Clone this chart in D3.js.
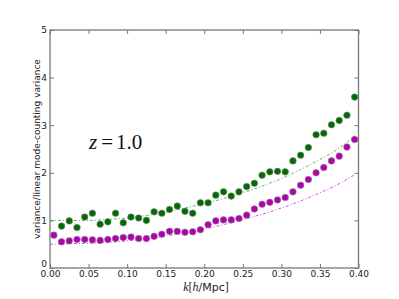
<!DOCTYPE html>
<html><head><meta charset="utf-8">
<script src="https://cdn.jsdelivr.net/npm/d3@7"></script>
<style>body{margin:0;background:#fff}svg{display:block}</style>
</head><body>
<script>
const kGreen = [0.015,0.025,0.035,0.045,0.055,0.065,0.075,0.085,0.095,0.105,0.115,0.125,0.135,0.145,0.155,0.165,0.175,0.185,0.195,0.205,0.215,0.225,0.235,0.245,0.255,0.265,0.275,0.285,0.295,0.305,0.315,0.325,0.335,0.345,0.355,0.365,0.375,0.385,0.395];
const vGreen = [0.88,0.99,0.85,1.07,1.15,0.92,0.97,1.15,0.95,1.07,1.05,1.00,1.18,1.15,1.23,1.30,1.19,1.15,1.37,1.37,1.53,1.60,1.51,1.60,1.71,1.78,1.95,2.02,2.03,2.02,2.25,2.37,2.53,2.80,2.83,3.01,3.10,3.21,3.59];
const kMag = [0.005,0.015,0.025,0.035,0.045,0.055,0.065,0.075,0.085,0.095,0.105,0.115,0.125,0.135,0.145,0.155,0.165,0.175,0.185,0.195,0.205,0.215,0.225,0.235,0.245,0.255,0.265,0.275,0.285,0.295,0.305,0.315,0.325,0.335,0.345,0.355,0.365,0.375,0.385,0.395];
const vMag = [0.69,0.55,0.57,0.60,0.60,0.59,0.58,0.60,0.62,0.64,0.65,0.62,0.62,0.665,0.71,0.77,0.77,0.75,0.76,0.805,0.91,0.99,1.01,1.01,1.04,1.11,1.24,1.34,1.38,1.43,1.48,1.60,1.74,1.86,2.00,2.11,2.25,2.35,2.54,2.70];
const kTheory = [0.0,0.025,0.05,0.075,0.1,0.125,0.15,0.175,0.2,0.225,0.25,0.275,0.3,0.325,0.35,0.375,0.395];
const tGreen = [1.00,1.00,1.00,1.02,1.05,1.10,1.17,1.26,1.35,1.46,1.58,1.72,1.88,2.07,2.28,2.52,2.78];
const tMag = [0.50,0.51,0.52,0.54,0.57,0.61,0.67,0.74,0.82,0.91,1.02,1.13,1.26,1.41,1.58,1.77,1.96];
const xTicks = [0,0.05,0.10,0.15,0.20,0.25,0.30,0.35,0.40];
const yTicks = [0,1,2,3,4,5];

const W=399,H=299;
const svg=d3.select("body").append("svg").attr("width",W).attr("height",H);
const x=d3.scaleLinear().domain([0,0.4]).range([50,358.5]);
const y=d3.scaleLinear().domain([0,5]).range([268,30]);
const font="DejaVu Sans, sans-serif";

// theory lines
const line=d3.line().x(d=>x(d[0])).y(d=>y(d[1])).curve(d3.curveMonotoneX);
svg.append("path").datum(kTheory.map((k,i)=>[k,tGreen[i]]))
  .attr("d",line).attr("fill","none").attr("stroke","#3aa83a").attr("stroke-opacity",0.8)
  .attr("stroke-width",1).attr("stroke-dasharray","3,2,1,2");
svg.append("path").datum(kTheory.map((k,i)=>[k,tMag[i]]))
  .attr("d",line).attr("fill","none").attr("stroke","#d030d0").attr("stroke-opacity",0.85)
  .attr("stroke-width",1).attr("stroke-dasharray","3,2,1,2");

// points
svg.append("g").selectAll("circle").data(kGreen.map((k,i)=>[k,vGreen[i]])).join("circle")
  .attr("cx",d=>x(d[0])).attr("cy",d=>y(d[1])).attr("r",3.3)
  .attr("fill","#006b00").attr("stroke","#8a8a8a").attr("stroke-width",0.6);
svg.append("g").selectAll("circle").data(kMag.map((k,i)=>[k,vMag[i]])).join("circle")
  .attr("cx",d=>x(d[0])).attr("cy",d=>y(d[1])).attr("r",3.3)
  .attr("fill","#b000b0").attr("stroke","#8a8a8a").attr("stroke-width",0.6);

// frame
const frame="#777";
svg.append("rect").attr("x",50).attr("y",30).attr("width",308.5).attr("height",238)
  .attr("fill","none").attr("stroke",frame).attr("stroke-width",1.3);

// axes with inward ticks
const gx=svg.append("g").attr("transform","translate(0,268)")
  .call(d3.axisBottom(x).tickValues(xTicks).tickFormat(d3.format(".2f")).tickSizeInner(-4).tickSizeOuter(0).tickPadding(3));
const gxt=svg.append("g").attr("transform","translate(0,30)")
  .call(d3.axisTop(x).tickValues(xTicks).tickFormat("").tickSizeInner(-4).tickSizeOuter(0));
const gy=svg.append("g").attr("transform","translate(50,0)")
  .call(d3.axisLeft(y).tickValues(yTicks).tickFormat(d3.format("d")).tickSizeInner(-4).tickSizeOuter(0).tickPadding(3));
const gyr=svg.append("g").attr("transform","translate(358.5,0)")
  .call(d3.axisRight(y).tickValues(yTicks).tickFormat("").tickSizeInner(-4).tickSizeOuter(0));
[gx,gxt,gy,gyr].forEach(g=>{
  g.select(".domain").remove();
  g.selectAll(".tick line").attr("stroke",frame);
  g.selectAll("text").attr("font-family",font).attr("font-size",9).attr("fill","#222");
});
// lift the y "0" label slightly so it sits above the "0.00" label
gy.selectAll(".tick text").filter(d=>d===0).attr("dy","-0.12em");

// labels
svg.append("text").attr("transform","translate(40,149) rotate(-90)").attr("text-anchor","middle")
  .attr("font-family",font).attr("font-size",9).attr("fill","#222")
  .text("variance/linear mode-counting variance");
const xl=svg.append("text").attr("x",206).attr("y",291).attr("text-anchor","middle")
  .attr("font-family",font).attr("font-size",11).attr("fill","#222");
xl.append("tspan").attr("font-family","Liberation Serif, serif").attr("font-style","italic").attr("font-size",12).text("k");
xl.append("tspan").attr("font-family","Liberation Serif, serif").attr("font-size",12).text("[");
xl.append("tspan").attr("font-family","Liberation Serif, serif").attr("font-style","italic").attr("font-size",12).text("h");
xl.append("tspan").text("/Mpc");
xl.append("tspan").attr("font-family","Liberation Serif, serif").attr("font-size",12).text("]");

const zt=svg.append("text").attr("x",89).attr("y",149).attr("font-family","Liberation Serif, serif")
  .attr("font-size",21).attr("fill","#111");
zt.append("tspan").attr("font-style","italic").text("z");
zt.append("tspan").attr("dx",4).text("=");
zt.append("tspan").attr("dx",3).text("1.0");
</script>
</body></html>
